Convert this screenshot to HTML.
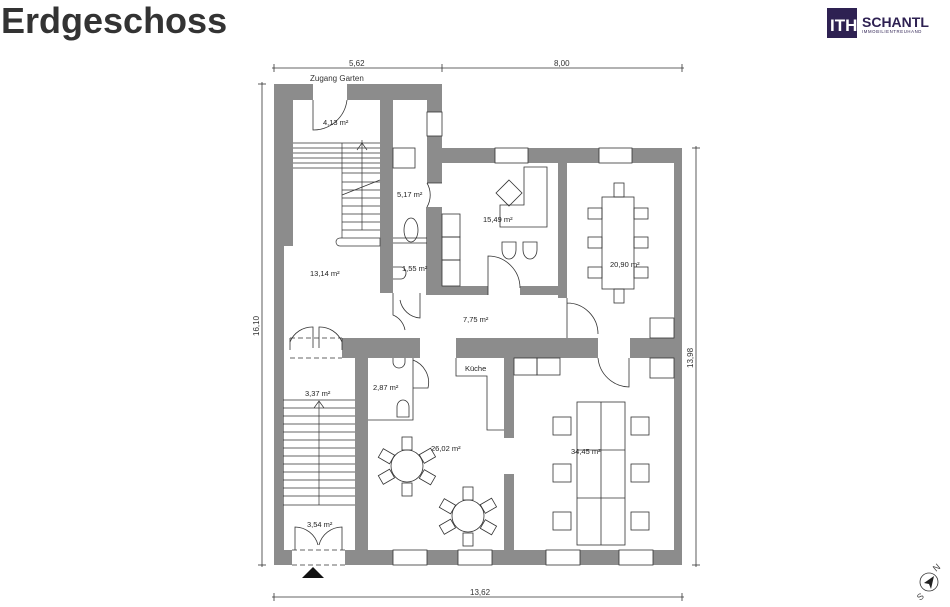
<!DOCTYPE html>
<html><head><meta charset="utf-8"><style>
html,body{margin:0;padding:0;background:#fff;width:950px;height:607px;overflow:hidden}
svg{display:block}
text{font-family:"Liberation Sans",sans-serif}
</style></head><body>
<svg width="950" height="607" viewBox="0 0 950 607" xmlns="http://www.w3.org/2000/svg">
<text x="1" y="33" font-size="36" font-weight="bold" fill="#333">Erdgeschoss</text>
<!-- logo -->
<rect x="827" y="8" width="30" height="30" fill="#2e2152"/>
<text x="830" y="31" font-size="17" fill="#fff" font-weight="bold">ITH</text>
<text x="862" y="27" font-size="14" font-weight="bold" fill="#2e2152" font-family="Liberation Serif">SCHANTL</text>
<text x="862" y="33" font-size="4.3" fill="#2e2152" letter-spacing="0.6">IMMOBILIENTREUHAND</text>

<g stroke="#333" stroke-width="0.8" fill="none">
<!-- dimension lines -->
<line x1="272" y1="68" x2="684" y2="68"/>
<line x1="274" y1="64" x2="274" y2="72"/><line x1="442" y1="64" x2="442" y2="72"/><line x1="682" y1="64" x2="682" y2="72"/>
<line x1="262" y1="82" x2="262" y2="567"/>
<line x1="258" y1="84" x2="266" y2="84"/><line x1="258" y1="565" x2="266" y2="565"/>
<line x1="696" y1="146" x2="696" y2="567"/>
<line x1="692" y1="148" x2="700" y2="148"/><line x1="692" y1="565" x2="700" y2="565"/>
<line x1="272" y1="597" x2="684" y2="597"/>
<line x1="274" y1="593" x2="274" y2="601"/><line x1="682" y1="593" x2="682" y2="601"/>
</g>
<g font-size="8" fill="#333">
<text x="349" y="66">5,62</text>
<text x="554" y="66">8,00</text>
<text x="470" y="595">13,62</text>
<text x="310" y="81">Zugang Garten</text>
<text transform="translate(259,336) rotate(-90)">16,10</text>
<text transform="translate(693,368) rotate(-90)">13,98</text>
</g>

<!-- walls -->
<g fill="#8c8c8c">
<!-- left outer -->
<rect x="274" y="84" width="19" height="162"/>
<rect x="274" y="246" width="10" height="319"/>
<!-- top left -->
<rect x="274" y="84" width="39" height="16"/>
<rect x="347" y="84" width="95" height="16"/>
<!-- interior vertical x380 -->
<rect x="380" y="100" width="13" height="193"/>
<!-- right of small rooms -->
<rect x="427" y="100" width="15" height="12"/>
<rect x="427" y="136" width="15" height="47"/>
<rect x="426" y="207" width="16" height="88"/>
<!-- top right -->
<rect x="442" y="148" width="53" height="15"/>
<rect x="528" y="148" width="71" height="15"/>
<rect x="632" y="148" width="50" height="15"/>
<!-- right outer -->
<rect x="674" y="148" width="8" height="417"/>
<!-- wall between rooms -->
<rect x="558" y="163" width="9" height="135"/>
<rect x="426" y="286" width="62" height="9"/>
<rect x="520" y="286" width="38" height="9"/>
<!-- middle horizontal -->
<rect x="342" y="338" width="78" height="20"/>
<rect x="456" y="338" width="142" height="20"/>
<rect x="630" y="338" width="44" height="20"/>
<!-- stair well wall -->
<rect x="355" y="338" width="13" height="227"/>
<!-- wall 26/34 -->
<rect x="504" y="358" width="10" height="80"/>
<rect x="504" y="474" width="10" height="76"/>
<!-- bottom -->
<rect x="274" y="550" width="18" height="15"/>
<rect x="345" y="550" width="48" height="15"/>
<rect x="427" y="550" width="31" height="15"/>
<rect x="492" y="550" width="54" height="15"/>
<rect x="580" y="550" width="39" height="15"/>
<rect x="653" y="550" width="29" height="15"/>
</g>

<g stroke="#333" stroke-width="0.8" fill="none">
<!-- windows -->
<rect x="427" y="112" width="15" height="24"/>
<rect x="495" y="148" width="33" height="15"/>
<rect x="599" y="148" width="33" height="15"/>
<rect x="393" y="550" width="34" height="15"/>
<rect x="458" y="550" width="34" height="15"/>
<rect x="546" y="550" width="34" height="15"/>
<rect x="619" y="550" width="34" height="15"/>
<!-- top entrance door -->
<path d="M313 100 V130 A34 34 0 0 0 347 100"/>
<!-- small room lines -->
<line x1="393" y1="238" x2="427" y2="238"/>
<line x1="393" y1="243" x2="427" y2="243"/>
<rect x="393" y="148" width="22" height="20"/>
<path d="M427 183 A24 24 0 0 1 427 207 M442 183 H427"/>
<ellipse cx="411" cy="230" rx="7" ry="12"/>
<path d="M393 267 h8 a5 6 0 0 1 0 12 h-8"/>
<!-- stairs top -->
<g stroke-width="0.7">
<line x1="293" y1="143" x2="380" y2="143"/><line x1="293" y1="148" x2="380" y2="148"/>
<line x1="293" y1="153" x2="380" y2="153"/><line x1="293" y1="158" x2="380" y2="158"/>
<line x1="293" y1="163" x2="380" y2="163"/><line x1="293" y1="168" x2="380" y2="168"/>
<line x1="342" y1="173" x2="380" y2="173"/><line x1="342" y1="182" x2="380" y2="182"/>
<line x1="342" y1="190" x2="380" y2="190"/><line x1="342" y1="198" x2="380" y2="198"/>
<line x1="342" y1="206" x2="380" y2="206"/><line x1="342" y1="214" x2="380" y2="214"/>
<line x1="342" y1="222" x2="380" y2="222"/><line x1="342" y1="230" x2="380" y2="230"/>
<line x1="342" y1="143" x2="342" y2="238"/>
<line x1="342" y1="195" x2="380" y2="180"/>
<line x1="362" y1="140" x2="362" y2="230"/>
<path d="M357 150 L362 143 L367 150"/>
<path d="M340 238 h40 v8 h-40 a4 4 0 0 1 0 -8"/>
</g>
<!-- 15,49 furniture -->
<path d="M524 167 H547 V227 H500 V205 H524 Z"/>
<path d="M509 180 L522 193 L509 206 L496 193 Z"/>
<rect x="442" y="214" width="18" height="23"/><rect x="442" y="237" width="18" height="23"/><rect x="442" y="260" width="18" height="26"/>
<path d="M502 242 h14 v8 a7 9 0 0 1 -14 0 z"/>
<path d="M523 242 h14 v8 a7 9 0 0 1 -14 0 z"/>
<path d="M488 295 V256 A32 32 0 0 1 520 288"/>
<!-- 20,90 table -->
<rect x="602" y="197" width="32" height="92"/>
<rect x="614" y="183" width="10" height="14"/><rect x="614" y="289" width="10" height="14"/>
<rect x="588" y="208" width="14" height="11"/><rect x="588" y="237" width="14" height="11"/><rect x="588" y="267" width="14" height="11"/>
<rect x="634" y="208" width="14" height="11"/><rect x="634" y="237" width="14" height="11"/><rect x="634" y="267" width="14" height="11"/>
<rect x="650" y="318" width="24" height="20"/>
<path d="M567 298 V338 M567 303 A31 31 0 0 1 598 334"/>
<!-- hallway doors -->
<path d="M393 293 V315 A20 20 0 0 1 405 330"/>
<path d="M400 300 A22 22 0 0 0 420 318 V293"/>
<!-- double door left -->
<path d="M290 338 V350 M342 338 V350"/>
<path d="M290 342 A24 24 0 0 1 313 327 V348 M342 342 A24 24 0 0 0 319 327 V348" />
<line x1="290" y1="338" x2="342" y2="338" stroke-dasharray="5 3"/>
<line x1="290" y1="358" x2="342" y2="358" stroke-dasharray="5 3"/>
<!-- kitchen counter -->
<path d="M456 358 V376 H487 V430 H504"/>
<rect x="514" y="358" width="23" height="17"/><rect x="537" y="358" width="23" height="17"/>
<rect x="650" y="358" width="24" height="20"/>
<path d="M598 358 A32 32 0 0 0 629 387 V358"/>
<!-- bathroom 2,87 -->
<path d="M413 358 V388 H428 A24 24 0 0 0 413 360 M413 388 V420 H368"/>
<path d="M393 358 v4 a6 6 0 0 0 12 0 v-4"/>
<path d="M397 417 v-10 a6 7 0 0 1 12 0 v10 z"/>
<!-- lower stairs -->
<g stroke-width="0.7">
<line x1="283" y1="400" x2="355" y2="400"/><line x1="283" y1="408" x2="355" y2="408"/>
<line x1="283" y1="416" x2="355" y2="416"/><line x1="283" y1="424" x2="355" y2="424"/>
<line x1="283" y1="432" x2="355" y2="432"/><line x1="283" y1="440" x2="355" y2="440"/>
<line x1="283" y1="448" x2="355" y2="448"/><line x1="283" y1="456" x2="355" y2="456"/>
<line x1="283" y1="464" x2="355" y2="464"/><line x1="283" y1="472" x2="355" y2="472"/>
<line x1="283" y1="480" x2="355" y2="480"/><line x1="283" y1="488" x2="355" y2="488"/>
<line x1="283" y1="496" x2="355" y2="496"/><line x1="283" y1="505" x2="355" y2="505"/>
<line x1="319" y1="402" x2="319" y2="505"/>
<path d="M314 408 L319 401 L324 408"/>
</g>
<!-- bottom entrance double door -->
<path d="M295 550 V527 A24 24 0 0 1 318 545 M342 550 V527 A24 24 0 0 0 319 545"/>
<line x1="292" y1="550" x2="345" y2="550" stroke-dasharray="5 3"/>
<line x1="292" y1="565" x2="345" y2="565" stroke-dasharray="5 3"/>
<!-- round tables -->
<circle cx="407" cy="466" r="16"/>
<circle cx="468" cy="516" r="16"/>
<g>
<rect x="402" y="437" width="10" height="13"/><rect x="402" y="483" width="10" height="13"/>
<rect x="380" y="451" width="13" height="10" transform="rotate(30 386 456)"/>
<rect x="421" y="451" width="13" height="10" transform="rotate(-30 427 456)"/>
<rect x="380" y="472" width="13" height="10" transform="rotate(-30 386 477)"/>
<rect x="421" y="472" width="13" height="10" transform="rotate(30 427 477)"/>
<rect x="463" y="487" width="10" height="13"/><rect x="463" y="533" width="10" height="13"/>
<rect x="441" y="501" width="13" height="10" transform="rotate(30 447 506)"/>
<rect x="482" y="501" width="13" height="10" transform="rotate(-30 488 506)"/>
<rect x="441" y="522" width="13" height="10" transform="rotate(-30 447 527)"/>
<rect x="482" y="522" width="13" height="10" transform="rotate(30 488 527)"/>
</g>
<!-- 34,45 table -->
<rect x="577" y="402" width="48" height="143"/>
<line x1="601" y1="402" x2="601" y2="545"/>
<line x1="577" y1="450" x2="625" y2="450"/><line x1="577" y1="498" x2="625" y2="498"/>
<rect x="553" y="417" width="18" height="18"/><rect x="553" y="464" width="18" height="18"/><rect x="553" y="512" width="18" height="18"/>
<rect x="631" y="417" width="18" height="18"/><rect x="631" y="464" width="18" height="18"/><rect x="631" y="512" width="18" height="18"/>
<!-- compass -->
<circle cx="929" cy="582" r="9"/>
</g>
<path d="M302 578 L313 567 L324 578 Z" fill="#111"/>
<path d="M934 576 L924 583 L929 584 L931 589 Z" fill="#222"/>
<text transform="translate(936,572) rotate(-40)" font-size="9" fill="#444">N</text>
<text transform="translate(920,601) rotate(-40)" font-size="9" fill="#444">S</text>

<g font-size="7.5" fill="#222">
<text x="323" y="125">4,13 m²</text>
<text x="397" y="197">5,17 m²</text>
<text x="483" y="222">15,49 m²</text>
<text x="610" y="267">20,90 m²</text>
<text x="310" y="276">13,14 m²</text>
<text x="402" y="271">1,55 m²</text>
<text x="463" y="322">7,75 m²</text>
<text x="465" y="371">Küche</text>
<text x="373" y="390">2,87 m²</text>
<text x="305" y="396">3,37 m²</text>
<text x="431" y="451">26,02 m²</text>
<text x="571" y="454">34,45 m²</text>
<text x="307" y="527">3,54 m²</text>
</g>
</svg>
</body></html>
